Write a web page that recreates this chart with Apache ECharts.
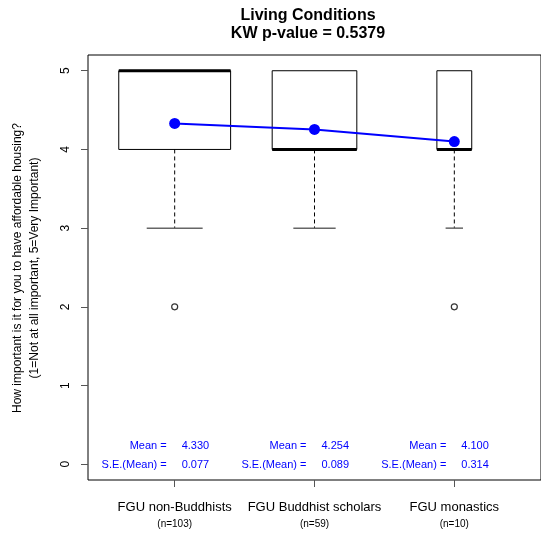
<!DOCTYPE html>
<html>
<head>
<meta charset="utf-8">
<script src="https://cdn.jsdelivr.net/npm/echarts@6/dist/echarts.min.js"></script>
<style>html,body{margin:0;padding:0;background:#fff;}#c{width:541px;height:533px;}</style>
</head>
<body>
<div id="c"></div>
<script>
const titleLines = ['Living Conditions', 'KW p-value = 0.5379'];
const yAxisTitle = ['How important is it for you to have affordable housing?', '(1=Not at all important, 5=Very Important)'];
const categories = ['FGU non-Buddhists', 'FGU Buddhist scholars', 'FGU monastics'];
const nCounts = [103, 59, 10];
const whiskerLow = [3, 3, 3];
const q1 = [4, 4, 4];
const median = [5, 4, 4];
const q3 = [5, 5, 5];
const whiskerHigh = [5, 5, 5];
const outliers = [[0, 2], [2, 2]]; // [category index, value]
const means = [4.330, 4.254, 4.100];
const seMeans = [0.077, 0.089, 0.314];
const yTicks = [0, 1, 2, 3, 4, 5];

const FONT = '"Liberation Sans", Arial, sans-serif';
const maxSqrt = Math.max(...nCounts.map(Math.sqrt));

const boxData = categories.map((c, i) => [i + 1, whiskerLow[i], q1[i], median[i], q3[i], whiskerHigh[i], 0.8 * Math.sqrt(nCounts[i]) / maxSqrt]);
const meanData = means.map((m, i) => [i + 1, m]);
const outlierData = outliers.map(o => [o[0] + 1, o[1]]);
const statData = categories.map((c, i) => [i + 1, means[i], seMeans[i]]);

const chart = echarts.init(document.getElementById('c'), null, {renderer: 'canvas'});
chart.setOption({
  animation: false,
  backgroundColor: '#fff',
  textStyle: {fontFamily: FONT},
  title: {
    text: titleLines.join('\n'),
    left: 303, top: 2, textAlign: 'center',
    textStyle: {fontFamily: FONT, fontSize: 16, fontWeight: 'bold', color: '#000', lineHeight: 18}
  },
  grid: {left: 88, top: 55, bottom: 53, right: -4, show: true, borderColor: '#000', borderWidth: 1, backgroundColor: 'transparent'},
  xAxis: {
    type: 'value', min: 0.38, max: 3.62,
    splitLine: {show: false},
    axisLine: {show: false, onZero: false},
    axisTick: {show: true, length: 7, customValues: categories.map((c, i) => i + 1), lineStyle: {color: '#555'}},
    axisLabel: {
      show: true, margin: 19, customValues: categories.map((c, i) => i + 1),
      formatter: v => '{a|' + categories[Math.round(v) - 1] + '}\n{n|(n=' + nCounts[Math.round(v) - 1] + ')}',
      rich: {
        a: {fontFamily: FONT, fontSize: 13, lineHeight: 17, color: '#000'},
        n: {fontFamily: FONT, fontSize: 10, lineHeight: 17, color: '#000'}
      }
    }
  },
  yAxis: {
    type: 'value', min: -0.2, max: 5.2,
    splitLine: {show: false},
    axisLine: {show: false, onZero: false},
    axisTick: {show: true, length: 7, customValues: yTicks, lineStyle: {color: '#555'}},
    axisLabel: {show: true, rotate: 90, margin: 16, customValues: yTicks, fontFamily: FONT, fontSize: 12, color: '#000'}
  },
  graphic: [{
    type: 'text', x: 26, y: 268, rotation: Math.PI / 2,
    style: {text: yAxisTitle.join('\n'), fontFamily: FONT, fontSize: 12, lineHeight: 17, fill: '#000', align: 'center', verticalAlign: 'middle'}
  }],
  series: [
    {
      type: 'custom', data: boxData, z: 2,
      renderItem: function (params, api) {
        const x = api.value(0);
        const w = api.size([api.value(6), 0])[0];
        const cx = api.coord([x, 0])[0];
        const yLow = api.coord([x, api.value(1)])[1];
        const yQ1 = api.coord([x, api.value(2)])[1];
        const yMed = api.coord([x, api.value(3)])[1];
        const yQ3 = api.coord([x, api.value(4)])[1];
        const yHigh = api.coord([x, api.value(5)])[1];
        const children = [];
        children.push({type: 'line', shape: {x1: cx, y1: yQ1, x2: cx, y2: yLow}, style: {stroke: '#000', lineWidth: 1, lineDash: [4, 3]}});
        if (yHigh < yQ3) children.push({type: 'line', shape: {x1: cx, y1: yQ3, x2: cx, y2: yHigh}, style: {stroke: '#000', lineWidth: 1, lineDash: [4, 3]}});
        children.push({type: 'line', shape: {x1: cx - w / 4, y1: yLow, x2: cx + w / 4, y2: yLow}, style: {stroke: '#666', lineWidth: 1.5}});
        if (yHigh < yQ3) children.push({type: 'line', shape: {x1: cx - w / 4, y1: yHigh, x2: cx + w / 4, y2: yHigh}, style: {stroke: '#666', lineWidth: 1.5}});
        children.push({type: 'rect', shape: {x: cx - w / 2, y: yQ3, width: w, height: yQ1 - yQ3}, style: {fill: 'none', stroke: '#000', lineWidth: 1}});
        children.push({type: 'line', shape: {x1: cx - w / 2, y1: yMed, x2: cx + w / 2, y2: yMed}, style: {stroke: '#000', lineWidth: 3}});
        return {type: 'group', children: children};
      }
    },
    {
      type: 'scatter', data: outlierData, symbol: 'circle', symbolSize: 6, z: 3,
      itemStyle: {color: '#fff', borderColor: '#000', borderWidth: 1.2}
    },
    {
      type: 'line', data: meanData, symbol: 'circle', symbolSize: 11, z: 4,
      lineStyle: {color: '#0000ff', width: 2}, itemStyle: {color: '#0000ff'}
    },
    {
      type: 'custom', data: statData, z: 5,
      renderItem: function (params, api) {
        const x = api.value(0);
        const cx = api.coord([x, 0])[0];
        const yb = api.coord([x, -0.2])[1];
        const st = {fontFamily: FONT, fontSize: 11, fill: '#0000ff', verticalAlign: 'middle'};
        return {type: 'group', children: [
          {type: 'text', x: cx - 8, y: yb - 34, style: Object.assign({}, st, {text: 'Mean =', align: 'right'})},
          {type: 'text', x: cx + 7, y: yb - 34, style: Object.assign({}, st, {text: api.value(1).toFixed(3), align: 'left'})},
          {type: 'text', x: cx - 8, y: yb - 15, style: Object.assign({}, st, {text: 'S.E.(Mean) =', align: 'right'})},
          {type: 'text', x: cx + 7, y: yb - 15, style: Object.assign({}, st, {text: api.value(2).toFixed(3), align: 'left'})}
        ]};
      }
    }
  ]
});
</script>
</body>
</html>
